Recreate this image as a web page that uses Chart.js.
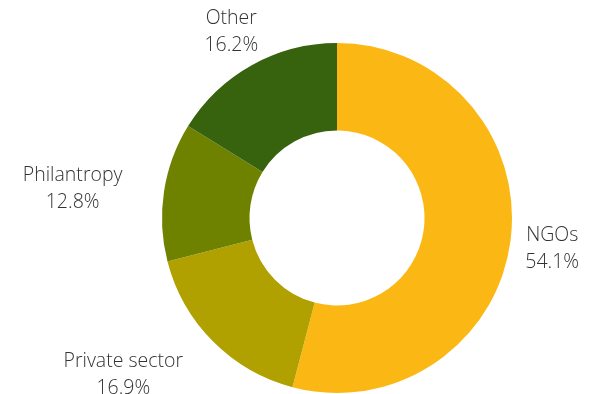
<!DOCTYPE html>
<html lang="en">
<head>
  <meta charset="UTF-8" />
  <title>Funding sources</title>
  <style>
    html, body { margin: 0; padding: 0; background: #fff; }
    #wrap { width: 603px; height: 394px; position: relative; }
  </style>
</head>
<body>
  <div id="wrap"><canvas id="donut"></canvas></div>

  <script src="https://cdn.jsdelivr.net/npm/chart.js"></script>
  <script>
    // data
    const categories = ['NGOs', 'Private sector', 'Philantropy', 'Other'];
    const shares = [54.1, 16.9, 12.8, 16.2];
    const colours = ['#FBB814', '#B0A000', '#6E8200', '#37630E'];

    const LINE = 27;

    // draws "name / xx.x%" outside each slice, as a centred two-line block;
    // if the block would cut into the ring it is pushed out to one side
    const outsideLabels = {
      id: 'outsideLabels',
      afterDatasetsDraw(chart) {
        const ctx = chart.ctx;
        const arcs = chart.getDatasetMeta(0).data;
        ctx.save();
        ctx.font = '300 19.5px "Open Sans", sans-serif';
        ctx.fillStyle = '#333';
        ctx.textBaseline = 'middle';
        ctx.textAlign = 'center';
        arcs.forEach((arc, i) => {
          const mid = (arc.startAngle + arc.endAngle) / 2;
          const r = arc.outerRadius;
          const sx = Math.cos(mid), sy = Math.sin(mid);
          const ax = arc.x + sx * (r + 42);
          const ay = arc.y + sy * (r + 42) + 3.5;
          const lines = [categories[i], shares[i].toFixed(1) + '%'];
          const w = Math.max(...lines.map(t => ctx.measureText(t).width));
          const h = LINE * 2;

          let cx = ax;
          // nearest point of the centred box to the ring centre
          const nx = Math.max(cx - w / 2, Math.min(arc.x, cx + w / 2));
          const ny = Math.max(ay - h / 2, Math.min(arc.y, ay + h / 2));
          if (Math.hypot(nx - arc.x, ny - arc.y) < r) {
            cx = sx < 0 ? ax - w / 2 : ax + w / 2;
          }
          ctx.fillText(lines[0], cx, ay - LINE / 2);
          ctx.fillText(lines[1], cx, ay + LINE / 2);
        });
        ctx.restore();
      }
    };

    new Chart(document.getElementById('donut'), {
      type: 'doughnut',
      data: {
        labels: categories,
        datasets: [{
          data: shares,
          backgroundColor: colours,
          borderWidth: 0
        }]
      },
      options: {
        responsive: true,
        maintainAspectRatio: false,
        animation: false,
        cutout: '50%',
        layout: { padding: { top: 43, bottom: 1, left: 162, right: 91 } },
        plugins: {
          legend: { display: false },
          tooltip: { enabled: false }
        }
      },
      plugins: [outsideLabels]
    });
  </script>
</body>
</html>
